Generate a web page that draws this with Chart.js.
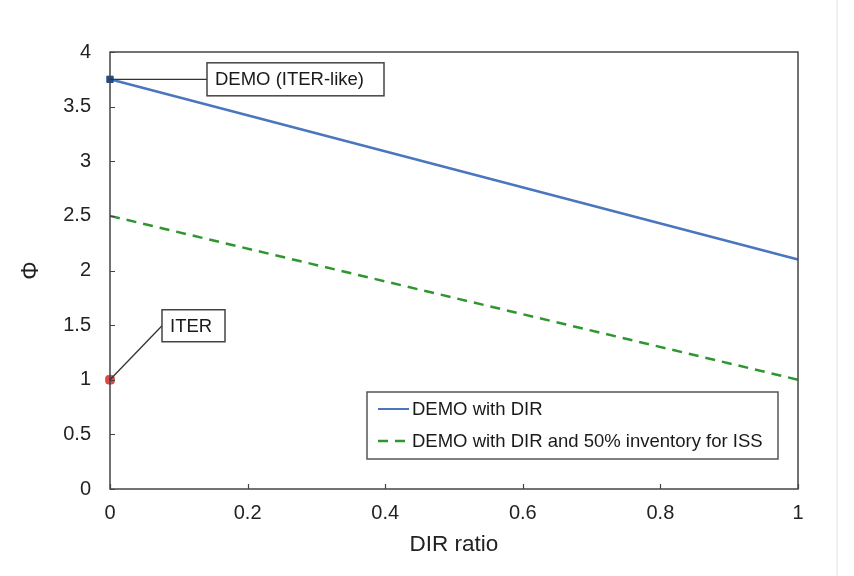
<!DOCTYPE html>
<html>
<head>
<meta charset="utf-8">
<script src="https://cdn.jsdelivr.net/npm/chart.js@4/dist/chart.umd.min.js"></script>
<style>
  html, body { margin: 0; padding: 0; background: #fff; }
  #wrap { position: relative; width: 854px; height: 576px; }
  #edge { position: absolute; left: 836px; top: 0; width: 2px; height: 576px; background: #f0f0f0; }
</style>
</head>
<body>
<div id="wrap">
  <canvas id="c" width="854" height="576"></canvas>
  <div id="edge"></div>
</div>
<script>
// ---- data ----
const dirRatio = [0, 1];
const demoWithDIR = [3.75, 2.1];
const demoWithDIR50 = [2.5, 1.0];
const demoIterLike = [{ x: 0, y: 3.75 }];
const iterPoint = [{ x: 0, y: 1.0 }];
const seriesNames = ['DEMO with DIR', 'DEMO with DIR and 50% inventory for ISS'];
const annotationLabels = ['DEMO (ITER-like)', 'ITER'];
const xTicks = [0, 0.2, 0.4, 0.6, 0.8, 1];
const yTicks = [0, 0.5, 1, 1.5, 2, 2.5, 3, 3.5, 4];
const xTitle = 'DIR ratio';
const yTitle = 'Φ';

const FONT = 'Liberation Sans, Arial, sans-serif';
const BLUE = '#4a76bf';
const GREEN = '#2f962f';
const AXIS = '#444444';

const framePlugin = {
  id: 'frame',
  afterDatasetsDraw(chart) {
    const { ctx, chartArea: a, scales: { x, y } } = chart;
    ctx.save();
    // border
    ctx.strokeStyle = AXIS;
    ctx.lineWidth = 1.5;
    ctx.strokeRect(a.left, a.top, a.right - a.left, a.bottom - a.top);
    // inward ticks
    ctx.lineWidth = 1.2;
    ctx.beginPath();
    xTicks.forEach(v => {
      const px = Math.round(x.getPixelForValue(v)) + 0.5;
      ctx.moveTo(px, a.bottom); ctx.lineTo(px, a.bottom - 5);
    });
    yTicks.forEach(v => {
      const py = Math.round(y.getPixelForValue(v)) + 0.5;
      ctx.moveTo(a.left, py); ctx.lineTo(a.left + 5, py);
    });
    ctx.stroke();

    // annotations
    function callout(pt, label, dx, dy, w, h) {
      const px = x.getPixelForValue(pt.x), py = y.getPixelForValue(pt.y);
      const bx = px + dx, by = py + dy - h / 2;
      ctx.strokeStyle = '#333';
      ctx.lineWidth = 1.3;
      ctx.beginPath();
      ctx.moveTo(px, py);
      ctx.lineTo(bx, py + dy);
      ctx.stroke();
      ctx.fillStyle = '#fff';
      ctx.fillRect(bx, by, w, h);
      ctx.strokeStyle = '#444';
      ctx.lineWidth = 1.5;
      ctx.strokeRect(bx, by, w, h);
      ctx.fillStyle = '#1a1a1a';
      ctx.font = '18.5px ' + FONT;
      ctx.textBaseline = 'middle';
      ctx.textAlign = 'left';
      ctx.fillText(label, bx + 8, by + h / 2 + 1);
    }
    callout(demoIterLike[0], annotationLabels[0], 97, 0, 177, 33);
    callout(iterPoint[0], annotationLabels[1], 52, -54, 63, 32);

    // legend
    const lx = 367, ly = 392, lw = 411, lh = 67;
    ctx.fillStyle = '#fff';
    ctx.fillRect(lx, ly, lw, lh);
    ctx.strokeStyle = '#555';
    ctx.lineWidth = 1.5;
    ctx.strokeRect(lx, ly, lw, lh);
    const rows = [
      { name: seriesNames[0], color: BLUE, dash: [], yy: ly + 17, x0: lx + 11, x1: lx + 42 },
      { name: seriesNames[1], color: GREEN, dash: [10, 7], yy: ly + 49, x0: lx + 11, x1: lx + 38 }
    ];
    rows.forEach(r => {
      ctx.strokeStyle = r.color;
      ctx.lineWidth = r.dash.length ? 2.5 : 2;
      ctx.setLineDash(r.dash);
      ctx.beginPath();
      ctx.moveTo(r.x0, r.yy);
      ctx.lineTo(r.x1, r.yy);
      ctx.stroke();
      ctx.setLineDash([]);
      ctx.fillStyle = '#1a1a1a';
      ctx.font = '18.5px ' + FONT;
      ctx.textBaseline = 'middle';
      ctx.textAlign = 'left';
      ctx.fillText(r.name, lx + 45, r.yy + 1);
    });
    ctx.restore();
  }
};

new Chart(document.getElementById('c'), {
  type: 'scatter',
  data: {
    datasets: [
      {
        label: seriesNames[0], type: 'line',
        data: dirRatio.map((v, i) => ({ x: v, y: demoWithDIR[i] })),
        borderColor: BLUE, borderWidth: 2.5, pointRadius: 0, fill: false, order: 3
      },
      {
        label: seriesNames[1], type: 'line',
        data: dirRatio.map((v, i) => ({ x: v, y: demoWithDIR50[i] })),
        borderColor: GREEN, borderWidth: 2.5, borderDash: [10, 7], pointRadius: 0, fill: false, order: 3
      },
      {
        label: annotationLabels[0], data: demoIterLike,
        pointStyle: 'rect', pointRadius: 4.5, backgroundColor: '#1f4f8f', borderColor: '#1f4f8f', order: 1
      },
      {
        label: annotationLabels[1], data: iterPoint,
        pointStyle: 'rectRounded', pointRadius: 5, backgroundColor: '#d94a4a', borderColor: '#d94a4a', order: 1
      }
    ]
  },
  options: {
    responsive: false,
    animation: false,
    clip: false,
    layout: { padding: { top: 52, right: 56, left: 0, bottom: 0 } },
    plugins: { legend: { display: false }, tooltip: { enabled: false } },
    scales: {
      x: {
        type: 'linear', min: 0, max: 1,
        afterBuildTicks: s => { s.ticks = xTicks.map(v => ({ value: v })); },
        afterFit: s => { s.height = 87; },
        grid: { display: false, drawTicks: false },
        border: { display: false },
        ticks: { color: '#222', font: { family: FONT, size: 20 }, padding: 12, callback: v => String(v) },
        title: { display: true, text: xTitle, color: '#222', font: { family: FONT, size: 22.5 }, padding: { top: 18, bottom: 18 } }
      },
      y: {
        type: 'linear', min: 0, max: 4,
        afterBuildTicks: s => { s.ticks = yTicks.map(v => ({ value: v })); },
        afterFit: s => { s.width = 110; },
        grid: { display: false, drawTicks: false },
        border: { display: false },
        ticks: { color: '#222', font: { family: FONT, size: 20 }, padding: 19, callback: v => String(v) },
        title: { display: true, text: yTitle, color: '#222', font: { family: FONT, size: 23 }, padding: { top: 18, bottom: 18 } }
      }
    }
  },
  plugins: [framePlugin]
});
</script>
</body>
</html>
